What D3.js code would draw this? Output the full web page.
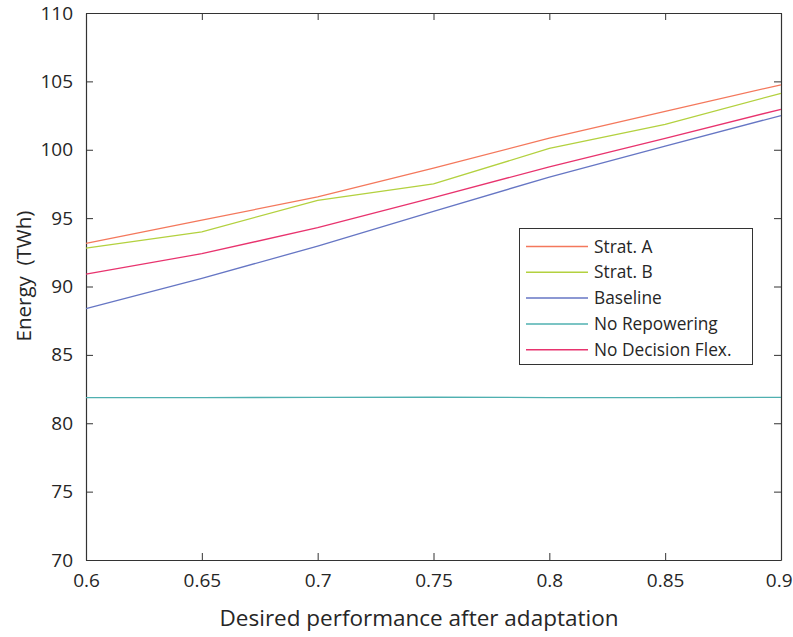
<!DOCTYPE html>
<html><head><meta charset="utf-8">
<script src="https://cdn.jsdelivr.net/npm/d3@7"></script>
<style>body{margin:0;background:#fff}svg{display:block}text{font-family:"Open Sans",sans-serif;fill:#262626}</style>
</head><body><svg id="c" width="793" height="637"></svg>
<script>
const xValues = [0.6, 0.65, 0.7, 0.75, 0.8, 0.85, 0.9];
const seriesNames = ["Strat. A", "Strat. B", "Baseline", "No Repowering", "No Decision Flex."];
const stratA = [93.15, 94.85, 96.55, 98.65, 100.85, 102.8, 104.75];
const stratB = [92.8, 94.0, 96.3, 97.5, 100.1, 101.86, 104.13];
const baseline = [88.38, 90.6, 92.95, 95.5, 98.0, 100.27, 102.5];
const noRepowering = [81.88, 81.88, 81.89, 81.9, 81.88, 81.88, 81.89];
const noDecisionFlex = [90.9, 92.4, 94.3, 96.5, 98.75, 100.84, 102.96];
const colors = ["#f4785c", "#b3d13f", "#6676c4", "#4fb0b0", "#e8336e"];
const xTicks = [0.6, 0.65, 0.7, 0.75, 0.8, 0.85, 0.9];
const yTicks = [70, 75, 80, 85, 90, 95, 100, 105, 110];

const allSeries = [stratA, stratB, baseline, noRepowering, noDecisionFlex];
const svg = d3.select("#c");
const L = 86, R = 781, T = 13, B = 560;
const x = d3.scaleLinear().domain([0.6, 0.9]).range([L, R]);
const y = d3.scaleLinear().domain([70, 110]).range([B, T]);

const fmt = d => String(d);
const tickLen = 7;
const gB = svg.append("g").attr("transform", `translate(0,${B})`)
  .call(d3.axisBottom(x).tickValues(xTicks).tickFormat(fmt).tickSizeInner(-tickLen).tickSizeOuter(0).tickPadding(14));
const gT = svg.append("g").attr("transform", `translate(0,${T})`)
  .call(d3.axisTop(x).tickValues(xTicks).tickFormat("").tickSizeInner(-tickLen).tickSizeOuter(0));
const gL = svg.append("g").attr("transform", `translate(${L},0)`)
  .call(d3.axisLeft(y).tickValues(yTicks).tickFormat(fmt).tickSizeInner(-tickLen).tickSizeOuter(0).tickPadding(13));
const gR = svg.append("g").attr("transform", `translate(${R},0)`)
  .call(d3.axisRight(y).tickValues(yTicks).tickFormat("").tickSizeInner(-tickLen).tickSizeOuter(0));
[gB, gT, gL, gR].forEach(g => {
  g.selectAll("path.domain").attr("stroke", "#333").attr("stroke-width", 1.2);
  g.selectAll(".tick line").attr("stroke", "#333").attr("stroke-width", 1);
  g.selectAll(".tick text").attr("font-size", 19).attr("font-family", "'Open Sans',sans-serif").attr("fill", "#262626");
});
gB.selectAll(".tick text").attr("dy", "0.71em");
// keep the last x label inside the page
gB.selectAll(".tick text").filter(d => d === 0.9).attr("text-anchor", "end").attr("x", 11);

const line = d3.line().x((d, i) => x(xValues[i])).y(d => y(d));
const plot = svg.append("g");
[3, 2, 4, 1, 0].forEach(k => {
  plot.append("path").datum(allSeries[k]).attr("d", line)
    .attr("fill", "none").attr("stroke", colors[k]).attr("stroke-width", 1.3);
});

const lg = svg.append("g");
lg.append("rect").attr("x", 519.5).attr("y", 228.5).attr("width", 233).attr("height", 136)
  .attr("fill", "#fff").attr("stroke", "#333").attr("stroke-width", 1);
seriesNames.forEach((n, i) => {
  const yy = 246.5 + i * 25.8;
  lg.append("line").attr("x1", 526).attr("x2", 588).attr("y1", yy).attr("y2", yy)
    .attr("stroke", colors[i]).attr("stroke-width", 1.5);
  lg.append("text").attr("x", 594).attr("y", yy).attr("dy", "0.35em")
    .attr("font-size", 17.3).text(n);
});

svg.append("text").attr("x", 419).attr("y", 626).attr("text-anchor", "middle")
  .attr("font-size", 22.5).text("Desired performance after adaptation");
svg.append("text").attr("transform", "translate(31,276) rotate(-90)").attr("text-anchor", "middle")
  .attr("font-size", 20.5).attr("xml:space", "preserve").style("white-space", "pre").text("Energy  (TWh)");
</script></body></html>
